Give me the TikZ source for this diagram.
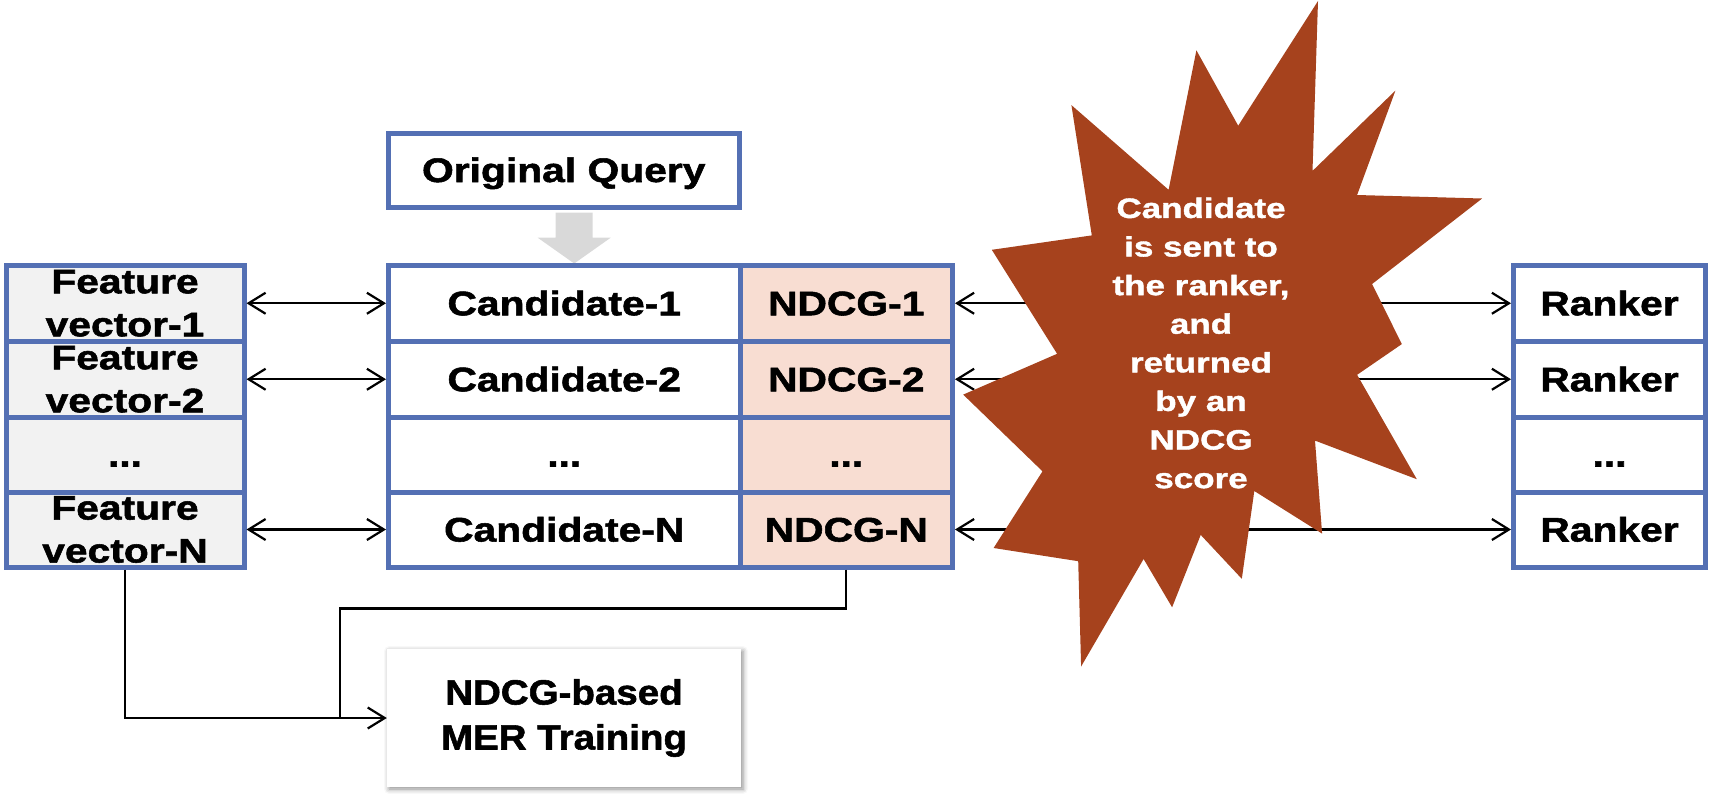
\documentclass[tikz,border=0pt]{standalone}
\usepackage{fontspec}
\usetikzlibrary{arrows.meta,shadows.blur}
\newfontfamily\cellfont{Liberation Sans}[FakeStretch=1.2, FakeBold=1.6]
\newfontfamily\burstfont{Liberation Sans}[FakeStretch=1.25, FakeBold=1.4]
\newfontfamily\trainfont{Liberation Sans}[FakeStretch=1.1, FakeBold=1.6]
\definecolor{cellblue}{RGB}{84,112,180}
\definecolor{featgrey}{RGB}{242,242,242}
\definecolor{scorepeach}{RGB}{248,221,210}
\definecolor{burst}{RGB}{166,66,29}
\definecolor{flowgrey}{RGB}{217,217,217}
\begin{document}
\begin{tikzpicture}[x=1pt,y=-1pt,
  cell/.style={draw=cellblue, line width=5pt, inner sep=0pt, align=center,
    font=\cellfont\bfseries\fontsize{34}{43}\selectfont},
  oneline/.style={text height=24pt, text depth=0pt},
  feat/.style={cell, fill=featgrey, minimum width=238pt},
  cand/.style={cell, fill=white, oneline, minimum width=351.5pt},
  score/.style={cell, fill=scorepeach, oneline, minimum width=212.5pt},
  rank/.style={cell, fill=white, oneline, minimum width=192pt},
  tip/.tip={Straight Barb[length=17pt,width=21pt]},
  wire/.style={line width=2.2pt, black},
  link/.style={wire, tip-tip},
]
\useasboundingbox (0,0) rectangle (1710,793);

% block arrow from the query down into the candidate list
\fill[flowgrey] (555.7,212.7) -- (592.7,212.7) -- (592.7,237.7) -- (610.7,237.7)
  -- (574.2,263.5) -- (537.7,237.7) -- (555.7,237.7) -- cycle;

\node[cand, minimum width=350.5pt, minimum height=74pt] (query) at (563.75,170) {Original Query};

% feature vectors
\node[feat, minimum height=76.5pt] (f1) at (125,303.25) {Feature\\vector-1};
\node[feat, minimum height=75.5pt] (f2) at (125,379.25) {Feature\\vector-2};
\node[feat, minimum height=75pt, oneline] (f3) at (125,454.5) {...};
\node[feat, minimum height=75pt] (fN) at (125,529.5) {Feature\\vector-N};

% candidates and their scores
\node[cand, minimum height=76.5pt] (c1) at (564.25,303.25) {Candidate-1};
\node[cand, minimum height=75.5pt] (c2) at (564.25,379.25) {Candidate-2};
\node[cand, minimum height=75pt] (c3) at (564.25,454.5) {...};
\node[cand, minimum height=75pt] (cN) at (564.25,529.5) {Candidate-N};
\node[score, minimum height=76.5pt] (n1) at (846.25,303.25) {NDCG-1};
\node[score, minimum height=75.5pt] (n2) at (846.25,379.25) {NDCG-2};
\node[score, minimum height=75pt] (n3) at (846.25,454.5) {...};
\node[score, minimum height=75pt] (nN) at (846.25,529.5) {NDCG-N};

% rankers
\node[rank, minimum height=76.5pt] (r1) at (1609.5,303.25) {Ranker};
\node[rank, minimum height=75.5pt] (r2) at (1609.5,379.25) {Ranker};
\node[rank, minimum height=75pt] (r3) at (1609.5,454.5) {...};
\node[rank, minimum height=75pt] (rN) at (1609.5,529.5) {Ranker};

% training box
\node[fill=white, minimum width=354pt, minimum height=138pt, inner sep=0pt, align=center,
  font=\trainfont\bfseries\fontsize{35}{45}\selectfont,
  blur shadow={shadow xshift=2pt, shadow yshift=-2pt, shadow blur radius=5pt, shadow opacity=45}]
  (mer) at (564,718) {NDCG-based\\MER Training};

% two-way links
\draw[link] (f1.east) -- (c1.west);
\draw[link] (f2.east) -- (c2.west);
\draw[link] (fN.east) -- (cN.west);
\draw[link] (n1.east) -- (r1.west);
\draw[link] (n2.east) -- (r2.west);
\draw[link] (nN.east) -- (rN.west);

% explosion callout over the ranker links
\fill[burst] (1318,1) -- (1312.5,170.9) -- (1395.4,90.6) -- (1357.1,195) -- (1482.1,198.5)
  -- (1372.1,284) -- (1401.8,344.1) -- (1357.1,374.8) -- (1416.8,479.2) -- (1315,440.6)
  -- (1322.1,533.6) -- (1254.3,491) -- (1241.8,578.8) -- (1200.7,534.9) -- (1172.1,607.3)
  -- (1143.6,559) -- (1081.1,666.5) -- (1078.2,561.2) -- (993.6,548) -- (1042.5,471.3)
  -- (963.2,394.6) -- (1057.1,353.8) -- (991.8,249.8) -- (1091.8,235.4) -- (1071.4,105.1)
  -- (1168.6,189.8) -- (1196.4,50.3) -- (1238.2,125.7) -- cycle;
\node[text=white, align=center, inner sep=0pt,
  font=\burstfont\bfseries\fontsize{28}{38.6}\selectfont]
  (note) at (1201,343) {Candidate\\is sent to\\the ranker,\\and\\returned\\by an\\NDCG\\score};

% inputs to training
\coordinate (join) at (340,718);
\draw[wire, -tip] (fN.south) |- (mer.west);
\draw[wire] (nN.south) -- ++(0,39) -| (join);
\end{tikzpicture}
\end{document}
